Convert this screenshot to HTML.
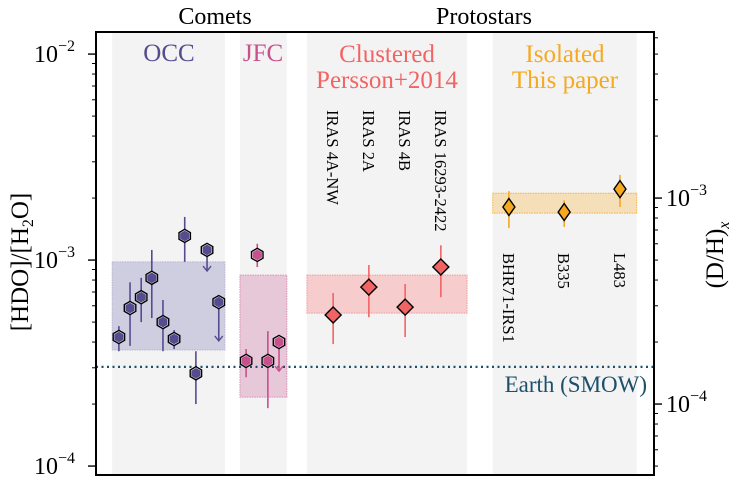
<!DOCTYPE html>
<html><head><meta charset="utf-8"><style>
body{margin:0;background:#fff}
svg{display:block;font-family:"Liberation Serif",serif}
</style></head><body>
<svg id="c" width="750" height="490" viewBox="0 0 750 490"></svg>
<script>
// ---- data (HDO/H2O) ----
const occX=[0.41,0.61,0.81,1.00,1.20,1.40,1.59,1.79,1.99,2.20];
const occV=[4.23e-4,5.85e-4,6.6e-4,8.2e-4,5.0e-4,4.14e-4,1.31e-3,2.82e-4,1.12e-3,6.25e-4];
const occHi=[4.78e-4,7.8e-4,8.2e-4,1.12e-3,6.4e-4,4.57e-4,1.62e-3,3.61e-4,null,null];
const occLo=[3.61e-4,3.83e-4,5.0e-4,5.23e-4,3.61e-4,3.7e-4,9.8e-4,2.0e-4,8.85e-4,4.05e-4];
const occLim=[false,false,false,false,false,false,false,false,true,true];
const occBand=[3.66e-4,9.8e-4];
const jfcX=[2.69,2.89,3.08,3.28];
const jfcV=[3.24e-4,1.06e-3,3.24e-4,4.0e-4];
const jfcHi=[3.7e-4,1.2e-3,4.52e-4,null];
const jfcLo=[2.7e-4,9.25e-4,1.91e-4,2.89e-4];
const jfcLim=[false,false,false,true];
const jfcBand=[2.16e-4,8.45e-4];
const clX=[4.25,4.89,5.54,6.18];
const clV=[5.41e-4,7.39e-4,5.91e-4,9.25e-4];
const clHi=[6.92e-4,9.46e-4,7.65e-4,1.18e-3];
const clLo=[3.91e-4,5.28e-4,4.23e-4,6.6e-4];
const clNames=["IRAS 4A-NW","IRAS 2A","IRAS 4B","IRAS 16293-2422"];
const clBand=[5.53e-4,8.45e-4];
const isoX=[7.40,8.39,9.39];
const isoV=[1.81e-3,1.71e-3,2.21e-3];
const isoHi=[2.16e-3,1.95e-3,2.59e-3];
const isoLo=[1.43e-3,1.45e-3,1.81e-3];
const isoNames=["BHR71-IRS1","B335","L483"];
const isoBand=[1.69e-3,2.11e-3];
const earth=3.03e-4;
const regions=[[0.29,2.31],[2.58,3.42],[3.78,6.65],[7.11,9.69]];
const yDomain=[Math.log10(9.05e-5),Math.log10(1.28e-2)];

const L=96,R=654,T=32,B=475;
const NS="http://www.w3.org/2000/svg";
const svg=document.getElementById('c');
const X=v=>L+v*(R-L)/10;
const Y=v=>B-(Math.log10(v)-yDomain[0])/(yDomain[1]-yDomain[0])*(B-T);
const YR=v=>Y(v*2); // right axis: D/H = HDO/H2O / 2
function el(t,a,p){const e=document.createElementNS(NS,t);for(const k in a)e.setAttribute(k,a[k]);(p||svg).appendChild(e);return e;}

regions.forEach((r,i)=>{const e=el('rect',{x:X(r[0]),y:T,width:X(r[1])-X(r[0]),height:B-T,fill:'#f3f3f3'});

});
function band(b,r,fill,stroke,name){const e=el('rect',{x:X(r[0]),y:Y(b[1]),width:X(r[1])-X(r[0]),height:Y(b[0])-Y(b[1]),fill:fill,stroke:stroke,'stroke-dasharray':'1.5 1','stroke-width':1});

}
band(occBand,regions[0],'#cfcde0','#b8b5d0','occ-range-band');
band(jfcBand,regions[1],'#e6c8d9','#e08ab5','jfc-range-band');
band(clBand,regions[2],'#f6cccc','#f29a9a','clustered-range-band');
band(isoBand,regions[3],'#f5dfb9','#f6b13c','isolated-range-band');

const eL=el('line',{x1:L,x2:R,y1:Y(earth),y2:Y(earth),stroke:'#1d4f6b','stroke-width':2.2,'stroke-dasharray':'2 3.5'});



function hex(cx,cy,r){let p=[];for(let k=0;k<6;k++){const a=Math.PI/6+k*Math.PI/3;p.push((cx+r*Math.cos(a)).toFixed(1)+','+(cy+r*Math.sin(a)).toFixed(1));}return p.join(' ');}
function series(xs,vs,hi,lo,lim,col,shape,name,w,h){
  const g=el('g',{});
  
  
  xs.forEach((x,i)=>{
    const cx=X(x),cy=Y(vs[i]);
    const top=hi[i]==null?cy:Y(hi[i]);
    el('line',{x1:cx,x2:cx,y1:top,y2:Y(lo[i]),stroke:col,'stroke-width':1.6},g);
    if(lim&&lim[i]){const yb=Y(lo[i]);el('polyline',{points:`${cx-4},${yb-5} ${cx},${yb} ${cx+4},${yb-5}`,fill:'none',stroke:col,'stroke-width':1.4},g);}
    let m;
    if(shape==='hex'){
      el('polygon',{points:hex(cx,cy,6.6),fill:'#fff',stroke:'#000','stroke-width':1.4},g);
      m=el('polygon',{points:hex(cx,cy,5.3),fill:col},g);
    }
    else m=el('polygon',{points:`${cx},${cy-h} ${cx+w},${cy} ${cx},${cy+h} ${cx-w},${cy}`,fill:col,stroke:'#000','stroke-width':1.4},g);
    
    
  });
}
series(occX,occV,occHi,occLo,occLim,'#574b90','hex','occ');
series(jfcX,jfcV,jfcHi,jfcLo,jfcLim,'#c8508c','hex','jfc');
series(clX,clV,clHi,clLo,null,'#f26464','dia','clustered',8,8);
series(isoX,isoV,isoHi,isoLo,null,'#f6a81e','dia','isolated',6,8.5);

const fr=el('rect',{x:L,y:T,width:R-L,height:B-T,fill:'none',stroke:'#000','stroke-width':2});



function ticks(side,scale,exps){
  const dir=side==='l'?-1:1, x0=side==='l'?L:R;
  for(let e=-6;e<=-1;e++)for(let m=1;m<10;m++){
    const v=m*Math.pow(10,e), y=scale(v);
    if(y<T||y>B)continue;
    const len=m===1?8:4;
    el('line',{x1:x0,x2:x0+dir*len,y1:y,y2:y,stroke:'#000','stroke-width':m===1?1.4:1});
    if(m===1&&exps.includes(e)){
      const t=el('text',{x:side==='l'?x0-62:x0+12,y:y+8,'font-size':24,'text-anchor':'start'});
      
      
      t.innerHTML='10<tspan dy="-11" font-size="16">−'+(-e)+'</tspan>';
    }
  }
}
ticks('l',Y,[-2,-3,-4]);
ticks('r',YR,[-3,-4]);

function txt(s,a,name,col){const t=el('text',Object.assign({fill:col||'#000'},a));t.textContent=s;

return t;}
txt('Comets',{x:215,y:24,'font-size':24,'text-anchor':'middle'},'comets-header');
txt('Protostars',{x:484,y:24,'font-size':24,'text-anchor':'middle'},'protostars-header');
txt('OCC',{x:169,y:61,'font-size':25,'text-anchor':'middle'},'occ-label','#574b90');
txt('JFC',{x:263,y:61,'font-size':25,'text-anchor':'middle'},'jfc-label','#c8508c');
txt('Clustered',{x:387,y:62,'font-size':25,'text-anchor':'middle'},'clustered-label','#f26464');
txt('Persson+2014',{x:387,y:88,'font-size':25,'text-anchor':'middle'},'clustered-ref-label','#f26464');
txt('Isolated',{x:565,y:62,'font-size':25,'text-anchor':'middle'},'isolated-label','#f6a81e');
txt('This paper',{x:565,y:88,'font-size':25,'text-anchor':'middle'},'isolated-ref-label','#f6a81e');
txt('Earth (SMOW)',{x:647,y:392,'font-size':23,'text-anchor':'end'},'earth-smow-label','#1d4f6b');
clNames.forEach((n,i)=>{txt(n,{x:0,y:0,'font-size':16.5,transform:`translate(${X(clX[i])-6},110) rotate(90)`},'clustered-name-'+i);});
isoNames.forEach((n,i)=>{txt(n,{x:0,y:0,'font-size':16.5,transform:`translate(${X(isoX[i])-6},253) rotate(90)`},'isolated-name-'+i);});
const yl=el('text',{transform:'translate(28,262) rotate(-90)','font-size':25,'text-anchor':'middle'});


yl.innerHTML='[HDO]/[H<tspan dy="5" font-size="16">2</tspan><tspan dy="-5">O]</tspan>';
const yr=el('text',{transform:'translate(723,255) rotate(-90)','font-size':25,'text-anchor':'middle'});


yr.innerHTML='(D/H)<tspan dy="6" font-size="16" font-style="italic">x</tspan>';
</script>
</body></html>
